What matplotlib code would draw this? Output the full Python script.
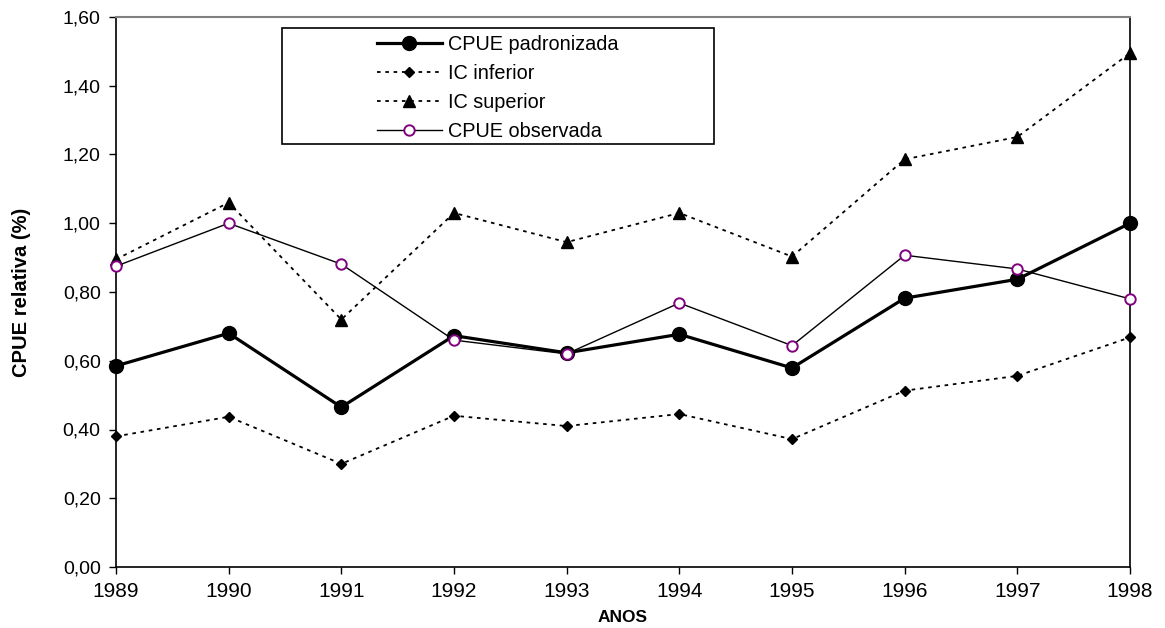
import matplotlib
matplotlib.use("Agg")
import matplotlib.pyplot as plt
from matplotlib.patches import Rectangle
from matplotlib.ticker import FuncFormatter

# Anos da série
anos = [1989, 1990, 1991, 1992, 1993, 1994, 1995, 1996, 1997, 1998]

# CPUE relativa
cpue_padronizada = [0.585, 0.680, 0.465, 0.673, 0.623, 0.677, 0.579, 0.782, 0.837, 1.000]
ic_inferior = [0.380, 0.437, 0.300, 0.440, 0.410, 0.445, 0.372, 0.513, 0.556, 0.668]
ic_superior = [0.895, 1.060, 0.720, 1.030, 0.945, 1.030, 0.903, 1.186, 1.251, 1.495]
cpue_observada = [0.875, 1.000, 0.881, 0.660, 0.620, 0.768, 0.644, 0.907, 0.867, 0.780]

rotulos = ["CPUE padronizada", "IC inferior", "IC superior", "CPUE observada"]

plt.rcParams["font.family"] = ["Liberation Sans", "DejaVu Sans"]

W, H = 1165, 628
fig = plt.figure(figsize=(W / 100, H / 100), dpi=100)
ax = fig.add_axes([116 / W, 1 - 567 / H, (1130 - 116) / W, (567 - 17) / H])

dash = (0, (2.0, 2.6))
ax.plot(anos, cpue_padronizada, color="black", lw=2.3, marker="o", ms=10,
        mfc="black", mec="black", label=rotulos[0], zorder=4)
ax.plot(anos, ic_inferior, color="black", lw=1.3, ls=dash, marker="D", ms=5.5,
        mfc="black", mec="black", label=rotulos[1], zorder=3)
ax.plot(anos, ic_superior, color="black", lw=1.3, ls=dash, marker="^", ms=8.5,
        mfc="black", mec="black", label=rotulos[2], zorder=3)
ax.plot(anos, cpue_observada, color="black", lw=1.0, marker="o", ms=7.5,
        mfc="white", mec="#800080", mew=1.4, label=rotulos[3], zorder=5)

ax.set_xlim(anos[0], anos[-1])
ax.set_ylim(0, 1.6)
ax.set_xticks(anos)
ax.set_yticks([i * 0.2 for i in range(9)])
ax.yaxis.set_major_formatter(FuncFormatter(lambda v, p: f"{v:.2f}".replace(".", ",")))
ax.tick_params(axis="both", direction="out", length=5, width=1, colors="black")
ax.tick_params(axis="x", pad=6, labelsize=15)
ax.tick_params(axis="y", pad=6, labelsize=14)

for s in ("left", "bottom", "right"):
    ax.spines[s].set_color("black")
    ax.spines[s].set_linewidth(1.2)
ax.spines["top"].set_color("#808080")
ax.spines["top"].set_linewidth(1.5)

for c in ax.lines:
    c.set_clip_on(False)

ax.set_xlabel("ANOS", fontsize=12.5, fontweight="bold", labelpad=6)
ax.set_ylabel("CPUE relativa (%)", fontsize=14.5, fontweight="bold", labelpad=23)

# caixa da legenda
fig.patches.append(Rectangle((282 / W, 1 - 144 / H), (714 - 282) / W, (144 - 28) / H,
                             transform=fig.transFigure, fill=False,
                             edgecolor="black", lw=1.2, zorder=1))
leg = ax.legend(loc="upper left", bbox_to_anchor=(377 / W, 1 - 35 / H),
                bbox_transform=fig.transFigure, frameon=False, fontsize=14.3,
                borderpad=0, borderaxespad=0, handlelength=3.27, handletextpad=0.3,
                labelspacing=0.5)

fig.savefig("out.png", dpi=100)
